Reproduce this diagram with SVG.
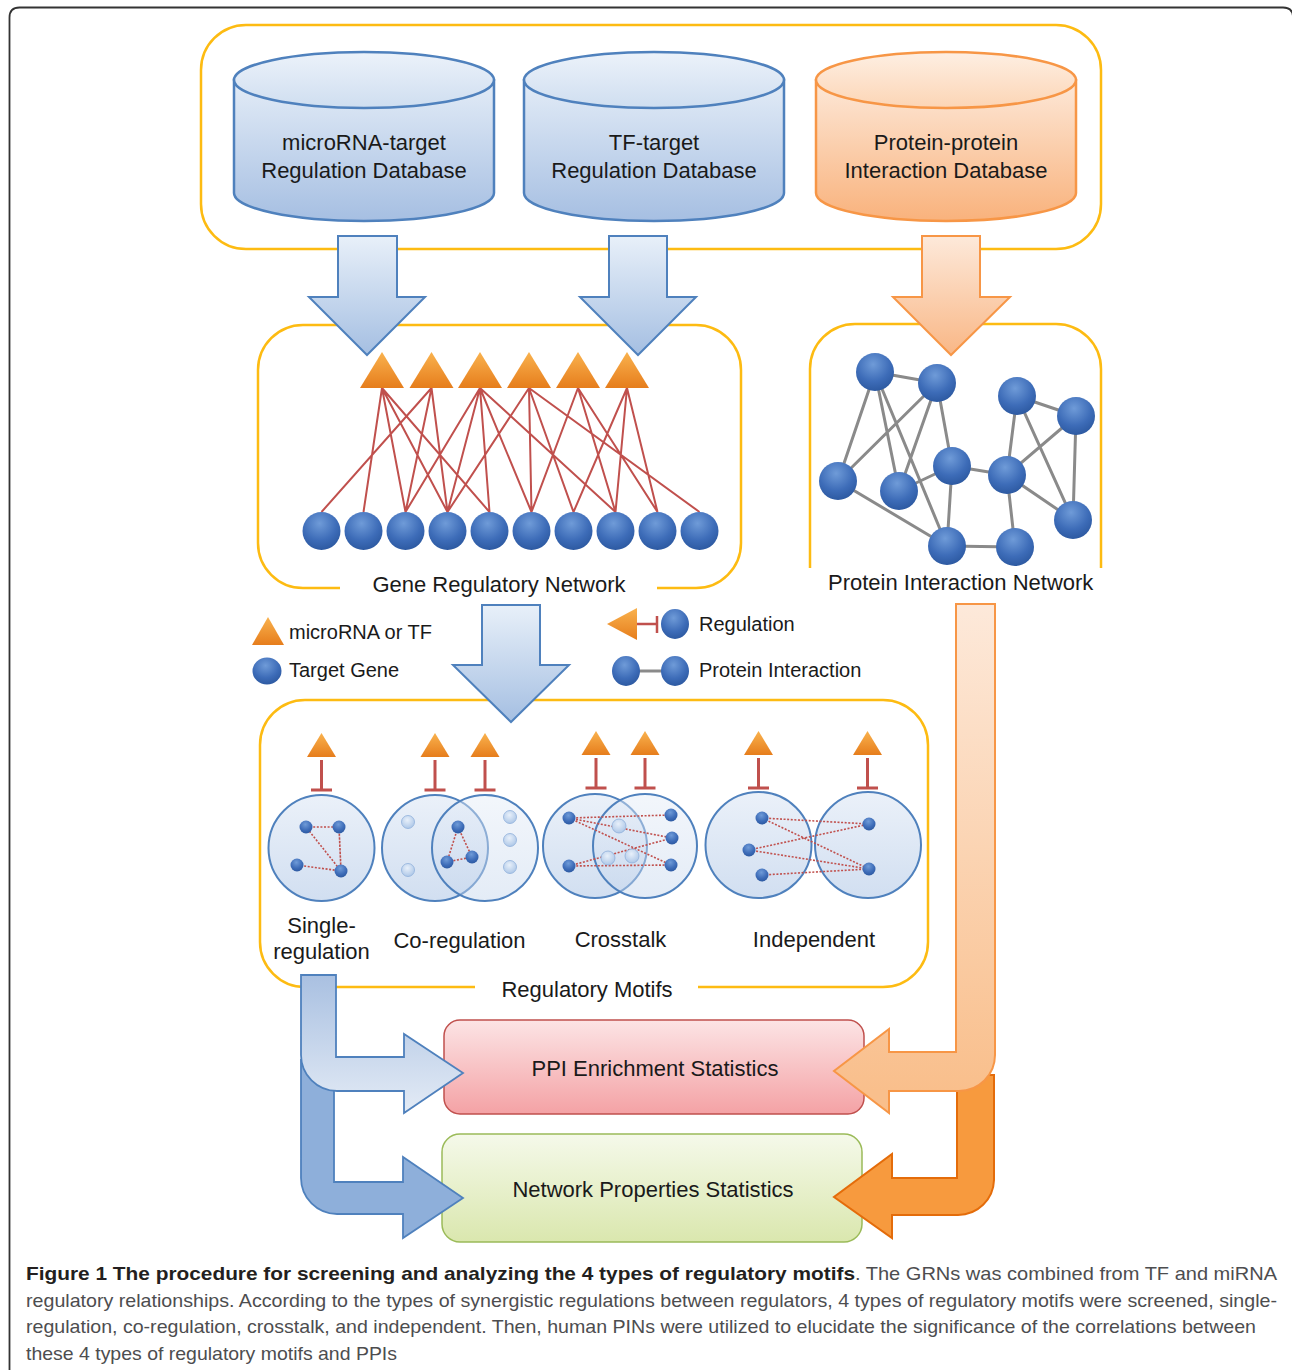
<svg xmlns="http://www.w3.org/2000/svg" width="1292" height="1370" viewBox="0 0 1292 1370">
<defs>
<linearGradient id="gCylB" x1="0" y1="0" x2="0" y2="1"><stop offset="0" stop-color="#e3ecf7"/><stop offset="1" stop-color="#a6bfe2"/></linearGradient>
<linearGradient id="gCylBTop" x1="0" y1="0" x2="0" y2="1"><stop offset="0" stop-color="#ecf2fa"/><stop offset="1" stop-color="#cfdef0"/></linearGradient>
<linearGradient id="gCylO" x1="0" y1="0" x2="0" y2="1"><stop offset="0" stop-color="#fde8d8"/><stop offset="1" stop-color="#f9b27c"/></linearGradient>
<linearGradient id="gCylOTop" x1="0" y1="0" x2="0" y2="1"><stop offset="0" stop-color="#feefe3"/><stop offset="1" stop-color="#fcd5b5"/></linearGradient>
<linearGradient id="gArrB" x1="0" y1="0" x2="0" y2="1"><stop offset="0" stop-color="#e8f0f9"/><stop offset="1" stop-color="#a5bfe2"/></linearGradient>
<linearGradient id="gArrO" x1="0" y1="0" x2="0" y2="1"><stop offset="0" stop-color="#fde9da"/><stop offset="1" stop-color="#f9b786"/></linearGradient>
<linearGradient id="gBentO" gradientUnits="userSpaceOnUse" x1="0" y1="604" x2="0" y2="1090"><stop offset="0" stop-color="#fde9da"/><stop offset="1" stop-color="#f9bf8c"/></linearGradient>
<linearGradient id="gBentB" gradientUnits="userSpaceOnUse" x1="0" y1="975" x2="0" y2="1110"><stop offset="0" stop-color="#a9c0e1"/><stop offset="1" stop-color="#e2eaf5"/></linearGradient>
<linearGradient id="gTri" x1="0" y1="0" x2="0" y2="1"><stop offset="0" stop-color="#f9b24e"/><stop offset="1" stop-color="#e67d1c"/></linearGradient>
<radialGradient id="gNode" cx="0.45" cy="0.3" r="0.75"><stop offset="0" stop-color="#6f9bd8"/><stop offset="0.6" stop-color="#3d6cb8"/><stop offset="1" stop-color="#2a569d"/></radialGradient>
<radialGradient id="gLight" cx="0.45" cy="0.35" r="0.7"><stop offset="0" stop-color="#e8f0fa"/><stop offset="1" stop-color="#a9c4e6"/></radialGradient>
<linearGradient id="gMot" x1="0" y1="0" x2="0" y2="1"><stop offset="0" stop-color="#e4ecf7"/><stop offset="1" stop-color="#c2d4ec"/></linearGradient>
<linearGradient id="gPPI" x1="0" y1="0" x2="0" y2="1"><stop offset="0" stop-color="#fce4e5"/><stop offset="1" stop-color="#f4a2a5"/></linearGradient>
<linearGradient id="gNet" x1="0" y1="0" x2="0" y2="1"><stop offset="0" stop-color="#f5f9ea"/><stop offset="1" stop-color="#dae7ae"/></linearGradient>
</defs>
<style>
text{font-family:"Liberation Sans",Arial,sans-serif;fill:#1a1a1a}
.lbl{font-size:22px;text-anchor:middle}
.leg{font-size:20px}
.cap{font-size:19px;fill:#4d4d4f}
.capb{font-size:19px;font-weight:bold;fill:#231f20}
.ybox{fill:none;stroke:#fdbb12;stroke-width:2.5}
.cylB{fill:url(#gCylB);stroke:#4f81bd;stroke-width:2.5}
.cylBt{fill:url(#gCylBTop);stroke:#4f81bd;stroke-width:2.5}
.cylO{fill:url(#gCylO);stroke:#f79646;stroke-width:2.5}
.cylOt{fill:url(#gCylOTop);stroke:#f79646;stroke-width:2.5}
.arrB{fill:url(#gArrB);stroke:#4f81bd;stroke-width:2}
.arrO{fill:url(#gArrO);stroke:#f79646;stroke-width:2}
.tri{fill:url(#gTri)}
.node{fill:url(#gNode)}
.light{fill:url(#gLight);stroke:#8fb0da;stroke-width:0.8}
.reg{stroke:#c0504d;stroke-width:2;fill:none}
.ppi{stroke:#8a8a8a;stroke-width:3;fill:none}
.tbar{stroke:#c0504d;stroke-width:3;fill:none}
.mc{fill:url(#gMot);fill-opacity:0.75;stroke:#4f81bd;stroke-width:2}
.dot{stroke:#c0504d;stroke-width:1.6;stroke-dasharray:2 1.6;fill:none}
</style>
<rect width="1292" height="1370" fill="#ffffff"/>
<path d="M9.5,1372 V17.5 Q9.5,7.5 19.5,7.5 H1283 Q1293,7.5 1293,17.5 V1372" fill="none" stroke="#333" stroke-width="1.8"/>

<g id="databases">
<rect class="ybox" x="201" y="25" width="900" height="224" rx="45"/>
<g id="db-microRNA">
<path class="cylB" d="M234,80 V193 A130,28 0 0 0 494,193 V80 Z"/>
<ellipse class="cylBt" cx="364" cy="80" rx="130" ry="28"/>
<text class="lbl" x="364" y="150">microRNA-target</text>
<text class="lbl" x="364" y="178">Regulation Database</text>
</g>
<g id="db-TF">
<path class="cylB" d="M524,80 V193 A130,28 0 0 0 784,193 V80 Z"/>
<ellipse class="cylBt" cx="654" cy="80" rx="130" ry="28"/>
<text class="lbl" x="654" y="150">TF-target</text>
<text class="lbl" x="654" y="178">Regulation Database</text>
</g>
<g id="db-PPI">
<path class="cylO" d="M816,80 V193 A130,28 0 0 0 1076,193 V80 Z"/>
<ellipse class="cylOt" cx="946" cy="80" rx="130" ry="28"/>
<text class="lbl" x="946" y="150">Protein-protein</text>
<text class="lbl" x="946" y="178">Interaction Database</text>
</g>
</g>

<g id="grn">
<path class="ybox" d="M340,588 H303 A45,45 0 0 1 258,543 V370 A45,45 0 0 1 303,325 H696 A45,45 0 0 1 741,370 V543 A45,45 0 0 1 696,588 H657"/>
<g id="grn-edges">
<path class="reg" d="M382,388 L363.5,512 M382,388 L405.5,512 M382,388 L447.5,512 M382,388 L489.5,512
M431.5,388 L321.5,512 M431.5,388 L405.5,512 M431.5,388 L447.5,512
M480,388 L405.5,512 M480,388 L447.5,512 M480,388 L489.5,512 M480,388 L531.5,512 M480,388 L615.5,512
M529,388 L447.5,512 M529,388 L531.5,512 M529,388 L573.5,512 M529,388 L699.5,512
M578,388 L531.5,512 M578,388 L615.5,512 M578,388 L657.5,512
M627,388 L573.5,512 M627,388 L615.5,512 M627,388 L657.5,512"/>
</g>
<g id="grn-regulators">
<path class="tri" d="M382,352 L404,388 H360 Z"/>
<path class="tri" d="M431.5,352 L453.5,388 H409.5 Z"/>
<path class="tri" d="M480,352 L502,388 H458 Z"/>
<path class="tri" d="M529,352 L551,388 H507 Z"/>
<path class="tri" d="M578,352 L600,388 H556 Z"/>
<path class="tri" d="M627,352 L649,388 H605 Z"/>
</g>
<g id="grn-targets">
<circle class="node" cx="321.5" cy="531" r="19"/>
<circle class="node" cx="363.5" cy="531" r="19"/>
<circle class="node" cx="405.5" cy="531" r="19"/>
<circle class="node" cx="447.5" cy="531" r="19"/>
<circle class="node" cx="489.5" cy="531" r="19"/>
<circle class="node" cx="531.5" cy="531" r="19"/>
<circle class="node" cx="573.5" cy="531" r="19"/>
<circle class="node" cx="615.5" cy="531" r="19"/>
<circle class="node" cx="657.5" cy="531" r="19"/>
<circle class="node" cx="699.5" cy="531" r="19"/>
</g>
<text class="lbl" x="499" y="592">Gene Regulatory Network</text>
</g>

<g id="pin">
<path class="ybox" d="M810,568 V369 A45,45 0 0 1 855,324 H1056 A45,45 0 0 1 1101,369 V568"/>
<path class="ppi" d="M875,372 L937,383 M875,372 L838,481 M875,372 L899,491 M875,372 L947,546 M937,383 L838,481 M937,383 L899,491 M937,383 L952,466 M838,481 L947,546 M899,491 L952,466 M952,466 L947,546 M952,466 L1007,475 M947,546 L1015,547 M1007,475 L1015,547 M1017,396 L1076,416 M1017,396 L1007,475 M1017,396 L1073,520 M1076,416 L1007,475 M1076,416 L1073,520 M1007,475 L1073,520"/>
<circle class="node" cx="875" cy="372" r="19"/>
<circle class="node" cx="937" cy="383" r="19"/>
<circle class="node" cx="1017" cy="396" r="19"/>
<circle class="node" cx="1076" cy="416" r="19"/>
<circle class="node" cx="838" cy="481" r="19"/>
<circle class="node" cx="899" cy="491" r="19"/>
<circle class="node" cx="952" cy="466" r="19"/>
<circle class="node" cx="1007" cy="475" r="19"/>
<circle class="node" cx="1073" cy="520" r="19"/>
<circle class="node" cx="947" cy="546" r="19"/>
<circle class="node" cx="1015" cy="547" r="19"/>
<text class="lbl" x="828" y="590" style="text-anchor:start">Protein Interaction Network</text>
</g>

<g id="legend">
<path class="tri" d="M268,617 L284,645 H252 Z"/>
<text class="leg" x="289" y="639">microRNA or TF</text>
<ellipse class="node" cx="267" cy="671" rx="14.5" ry="13.5"/>
<text class="leg" x="289" y="677">Target Gene</text>
<path d="M607,624 L637,608 V640 Z" fill="url(#gTri)"/>
<path class="tbar" d="M637,624 H657 M657,616 V633" style="stroke-width:2.5"/>
<ellipse class="node" cx="675" cy="624" rx="14" ry="15"/>
<text class="leg" x="699" y="631">Regulation</text>
<path d="M638,671 H663" stroke="#8a8a8a" stroke-width="3"/>
<ellipse class="node" cx="626" cy="671" rx="14" ry="15"/>
<ellipse class="node" cx="675" cy="671" rx="14" ry="15"/>
<text class="leg" x="699" y="677">Protein Interaction</text>
</g>

<g id="motifs">
<path class="ybox" d="M475,987 H305 A45,45 0 0 1 260,942 V745 A45,45 0 0 1 305,700 H883 A45,45 0 0 1 928,745 V942 A45,45 0 0 1 883,987 H698"/>
<g id="motif-single">
<path class="tri" d="M321.5,733 L336,757 H307 Z"/>
<path class="tbar" d="M321.5,760 V790 M311,790 H332"/>
<circle class="mc" cx="321.5" cy="848" r="53"/>
<path class="dot" d="M306,827 L339,827 L341,871 L306,827 M339,827 L341,871 M297,865 L341,871"/>
<circle class="node" cx="306" cy="827" r="6.5"/>
<circle class="node" cx="339" cy="827" r="6.5"/>
<circle class="node" cx="297" cy="865" r="6.5"/>
<circle class="node" cx="341" cy="871" r="6.5"/>
<text class="lbl" x="321.5" y="933">Single-</text>
<text class="lbl" x="321.5" y="959">regulation</text>
</g>
<g id="motif-co">
<path class="tri" d="M435,733 L449.5,757 H420.5 Z"/>
<path class="tri" d="M485,733 L499.5,757 H470.5 Z"/>
<path class="tbar" d="M435,760 V790 M424.5,790 H445.5 M485,760 V790 M474.5,790 H495.5"/>
<circle class="mc" cx="435" cy="848" r="53"/>
<circle class="mc" cx="485" cy="848" r="53" style="fill-opacity:0.45"/>
<path class="dot" d="M458,827 L447,862 L472,857 Z"/>
<circle class="light" cx="408" cy="822" r="6.5"/>
<circle class="light" cx="408" cy="870" r="6.5"/>
<circle class="light" cx="510" cy="817" r="6.5"/>
<circle class="light" cx="510" cy="840" r="6.5"/>
<circle class="light" cx="510" cy="867" r="6.5"/>
<circle class="node" cx="458" cy="827" r="6.5"/>
<circle class="node" cx="447" cy="862" r="6.5"/>
<circle class="node" cx="472" cy="857" r="6.5"/>
<text class="lbl" x="459.5" y="948">Co-regulation</text>
</g>
<g id="motif-crosstalk">
<path class="tri" d="M596,731 L610.5,755 H581.5 Z"/>
<path class="tri" d="M645,731 L659.5,755 H630.5 Z"/>
<path class="tbar" d="M596,758 V788 M585.5,788 H606.5 M645,758 V788 M634.5,788 H655.5"/>
<circle class="mc" cx="595" cy="846" r="52"/>
<circle class="mc" cx="645" cy="846" r="52" style="fill-opacity:0.45"/>
<path class="dot" d="M569,818 L671,815 M569,818 L672,838 M569,818 L671,865 M569,866 L672,838 M569,866 L671,865"/>
<circle class="light" cx="619" cy="826" r="7"/>
<circle class="light" cx="608" cy="858" r="7"/>
<circle class="light" cx="632" cy="856" r="7"/>
<circle class="node" cx="569" cy="818" r="6.5"/>
<circle class="node" cx="569" cy="866" r="6.5"/>
<circle class="node" cx="671" cy="815" r="6.5"/>
<circle class="node" cx="672" cy="838" r="6.5"/>
<circle class="node" cx="671" cy="865" r="6.5"/>
<text class="lbl" x="620.5" y="947">Crosstalk</text>
</g>
<g id="motif-independent">
<path class="tri" d="M758.5,731 L773,755 H744 Z"/>
<path class="tri" d="M867.5,731 L882,755 H853 Z"/>
<path class="tbar" d="M758.5,758 V788 M748,788 H769 M867.5,758 V788 M857,788 H878"/>
<circle class="mc" cx="758.5" cy="845" r="53"/>
<circle class="mc" cx="868" cy="845" r="53"/>
<path class="dot" d="M762,818 L869,824 M762,818 L869,869 M749,850 L869,824 M749,850 L869,869 M762,875 L869,869"/>
<circle class="node" cx="762" cy="818" r="6.5"/>
<circle class="node" cx="749" cy="850" r="6.5"/>
<circle class="node" cx="762" cy="875" r="6.5"/>
<circle class="node" cx="869" cy="824" r="6.5"/>
<circle class="node" cx="869" cy="869" r="6.5"/>
<text class="lbl" x="814" y="947">Independent</text>
</g>
<text class="lbl" x="587" y="997">Regulatory Motifs</text>
</g>

<g id="ppi-stats">
<rect x="444" y="1020" width="420" height="94" rx="16" fill="url(#gPPI)" stroke="#c0504d" stroke-width="1.5"/>
<text class="lbl" x="655" y="1076">PPI Enrichment Statistics</text>
</g>
<g id="net-stats">
<rect x="442" y="1134" width="420" height="108" rx="18" fill="url(#gNet)" stroke="#9bbb59" stroke-width="1.5"/>
<text class="lbl" x="653" y="1197">Network Properties Statistics</text>
</g>

<g id="connectors">
<path class="arrB" d="M338,236 H397 V297 H425 L367,355 L309,297 H338 Z"/>
<path class="arrB" d="M609,236 H667 V297 H696 L638,355 L580,297 H609 Z"/>
<path class="arrO" d="M922,236 H980 V297 H1010 L951,355 L893,297 H922 Z"/>
<path class="arrB" d="M482,605 H540 V665 H569 L511,722 L453,665 H482 Z"/>
<path d="M301,1060 V1178 A36,36 0 0 0 337,1214 H403 V1238 L463,1198 L403,1157 V1182 H334 V1060 Z" fill="#8eafda" stroke="#4f81bd" stroke-width="1.8"/>
<path d="M301,975 V1055 A36,36 0 0 0 337,1091 H404 V1113 L463,1073 L404,1034 V1057 H336 V975 Z" fill="url(#gBentB)" stroke="#4f81bd" stroke-width="1.8"/>
<path d="M957,1075 H994 V1180 A36,36 0 0 1 958,1215 H892 V1238 L834,1197 L892,1154 V1178 H957 Z" fill="#f79a3e" stroke="#e46c0a" stroke-width="2"/>
<path d="M956,604 H995 V1055 A36,36 0 0 1 959,1091 H889 V1113 L834,1071 L889,1029 V1052 H956 Z" fill="url(#gBentO)" stroke="#f79646" stroke-width="2"/>
</g>

<g id="caption">
<text class="capb" x="26" y="1280" textLength="829" lengthAdjust="spacingAndGlyphs">Figure 1 The procedure for screening and analyzing the 4 types of regulatory motifs</text>
<text class="cap" x="855" y="1280" textLength="422" lengthAdjust="spacingAndGlyphs">. The GRNs was combined from TF and miRNA</text>
<text class="cap" x="26" y="1307" textLength="1251" lengthAdjust="spacingAndGlyphs">regulatory relationships. According to the types of synergistic regulations between regulators, 4 types of regulatory motifs were screened, single-</text>
<text class="cap" x="26" y="1333" textLength="1230" lengthAdjust="spacingAndGlyphs">regulation, co-regulation, crosstalk, and independent. Then, human PINs were utilized to elucidate the significance of the correlations between</text>
<text class="cap" x="26" y="1360" textLength="371" lengthAdjust="spacingAndGlyphs">these 4 types of regulatory motifs and PPIs</text>
</g>
</svg>
